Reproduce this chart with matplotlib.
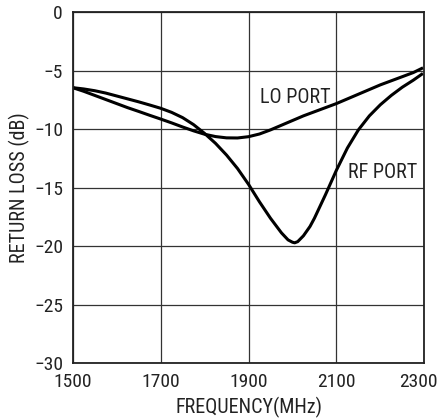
import matplotlib
matplotlib.use("Agg")
import matplotlib.pyplot as plt
from matplotlib.transforms import ScaledTranslation

plt.rcParams['font.family'] = ['Roboto Condensed', 'Liberation Sans', 'DejaVu Sans']

lo_freq = [1500, 1525, 1550, 1575, 1600, 1625, 1650, 1675, 1700, 1725, 1750, 1775,
           1800, 1825, 1850, 1875, 1900, 1925, 1950, 1975, 2000, 2025, 2050, 2075,
           2100, 2125, 2150, 2175, 2200, 2225, 2250, 2275, 2294]
lo_rl = [-6.44, -6.75, -7.1, -7.45, -7.8, -8.15, -8.47, -8.8, -9.12, -9.45, -9.8, -10.13,
         -10.42, -10.62, -10.73, -10.74, -10.63, -10.4, -10.05, -9.65, -9.25, -8.85, -8.5, -8.15,
         -7.8, -7.4, -7.0, -6.6, -6.2, -5.85, -5.5, -5.15, -4.8]

rf_freq = [1500, 1525, 1550, 1575, 1600, 1625, 1650, 1675, 1700, 1725, 1750, 1775,
           1800, 1825, 1850, 1875, 1900, 1925, 1950, 1975, 1990, 2000, 2005, 2012, 2025,
           2040, 2050, 2075, 2100, 2125, 2150, 2175, 2200, 2225, 2250, 2275, 2294]
rf_rl = [-6.44, -6.55, -6.7, -6.9, -7.15, -7.4, -7.65, -7.92, -8.2, -8.55, -9.0, -9.6,
         -10.35, -11.2, -12.2, -13.35, -14.7, -16.2, -17.6, -18.85, -19.45, -19.65, -19.7, -19.6, -19.1,
         -18.3, -17.6, -15.6, -13.5, -11.6, -10.05, -8.85, -7.9, -7.1, -6.4, -5.8, -5.3]

x_ticks = [1500, 1700, 1900, 2100, 2300]
y_ticks = [0, -5, -10, -15, -20, -25, -30]
y_tick_labels = ['0', '\u22125', '\u221210', '\u221215', '\u221220', '\u221225', '\u221230']

fig = plt.figure(figsize=(4.41, 4.19), dpi=100)
ax = fig.add_axes([0.1649, 0.1329, 0.7972, 0.8377])

ax.plot(lo_freq, lo_rl, color='black', lw=2.2, solid_joinstyle='round')
ax.plot(rf_freq, rf_rl, color='black', lw=2.2, solid_joinstyle='round')

ax.set_xlim(1500, 2300)
ax.set_ylim(-30, 0)
ax.set_xticks(x_ticks)
ax.set_xticklabels([str(t) for t in x_ticks])
ax.set_yticks(y_ticks)
ax.set_yticklabels(y_tick_labels)
ax.tick_params(length=0, labelsize=14, pad=7, colors='#222222')
ax.grid(True, color='#333333', lw=0.9)
ax.set_axisbelow(True)
for s in ax.spines.values():
    s.set_linewidth(1.3)
    s.set_color('#222222')

last = ax.get_xticklabels()[-1]
last.set_transform(last.get_transform() + ScaledTranslation(-4 / 72, 0, fig.dpi_scale_trans))

ax.set_xlabel('FREQUENCY(MHz)', fontsize=14.5, color='#222222', labelpad=4)
ax.set_ylabel('RETURN LOSS (dB)', fontsize=14.5, color='#222222', labelpad=3)

ax.text(1926, -7.24, 'LO PORT', fontsize=14.5, va='center', ha='left', color='#222222')
ax.text(2126, -13.7, 'RF PORT', fontsize=14.5, va='center', ha='left', color='#222222')

fig.savefig('out.png', dpi=100)
